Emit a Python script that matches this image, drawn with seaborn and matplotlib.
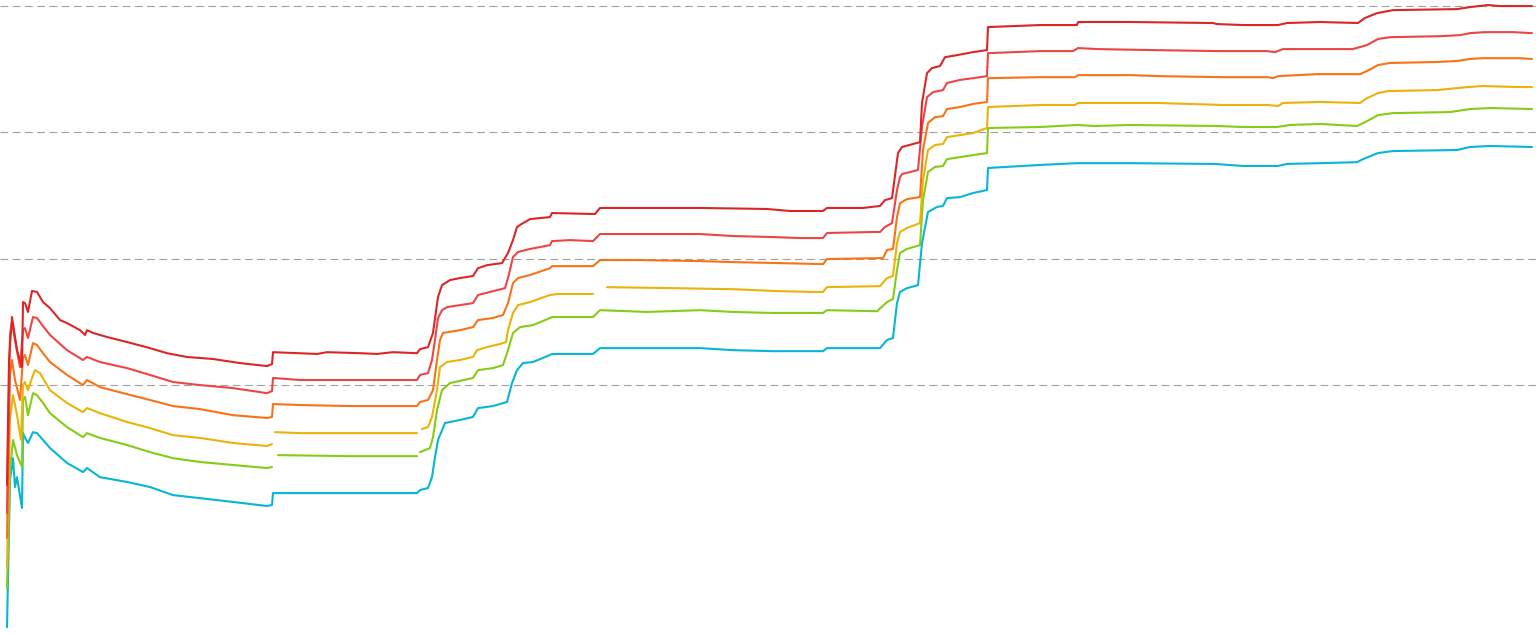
import numpy as np
import pandas as pd
import matplotlib
matplotlib.use("Agg")
import matplotlib.pyplot as plt
import seaborn as sns

NAN = np.nan

# 6 条净值曲线（day = 交易日序号, nav = 净值），NAN 表示断线
red_day = [0, 2, 5, 7, 10, 15, 16, 18, 21, 25, 30, 36, 43, 53, 60, 73, 78, 80, 86, 100,
           120, 143, 160, 180, 206, 233, 260, 265, 266, 310, 320, 353, 370, 386, 410, 413, 421, 426, 431, 435,
           443, 453, 466, 471, 480, 495, 501, 506, 510, 516, 523, 543, 545, 588, 593, 623, 693, 760, 783, 816,
           820, 856, 873, 878, 885, 891, 895, 910, 913, 915, 920, 925, 933, 938, 950, 966, 980, 981, 1033, 1070,
           1071, 1123, 1206, 1210, 1236, 1271, 1280, 1313, 1351, 1358, 1370, 1386, 1450, 1463, 1481, 1493, 1525]
red_nav = [0.605, 1.099, 1.269, 1.217, 1.138, 1.071, 1.328, 1.324, 1.289, 1.372,
           1.368, 1.328, 1.304, 1.257, 1.245, 1.217, 1.198, 1.217, 1.206, 1.190,
           1.170, 1.146, 1.126, 1.111, 1.103, 1.087, 1.075, 1.083, 1.130, 1.123,
           1.130, 1.126, 1.123, 1.130, 1.126, 1.142, 1.150, 1.206, 1.348, 1.395,
           1.415, 1.423, 1.431, 1.462, 1.474, 1.482, 1.522, 1.573, 1.625, 1.640,
           1.656, 1.664, 1.680, 1.676, 1.700, 1.700, 1.700, 1.696, 1.688, 1.688,
           1.700, 1.700, 1.708, 1.731, 1.739, 1.917, 1.941, 1.957, 1.960, 2.115,
           2.233, 2.253, 2.261, 2.296, 2.304, 2.316, 2.324, 2.415, 2.423, 2.423,
           2.435, 2.435, 2.431, 2.427, 2.423, 2.423, 2.431, 2.435, 2.431, 2.451,
           2.470, 2.482, 2.486, 2.494, 2.502, 2.498, 2.498]

lred_day = [0, 3, 5, 8, 13, 16, 18, 21, 26, 30, 36, 43, 60, 76, 80, 93, 120, 143, 166, 193,
            226, 260, 265, 266, 293, 343, 410, 413, 421, 425, 428, 431, 435, 440, 453, 466, 471, 483, 498, 501,
            506, 511, 523, 543, 545, 563, 586, 593, 630, 693, 726, 766, 793, 816, 820, 866, 873, 878, 885, 890,
            893, 895, 911, 915, 920, 926, 936, 940, 953, 966, 980, 981, 1033, 1066, 1071, 1090, 1146, 1213, 1260, 1268,
            1276, 1313, 1346, 1360, 1371, 1383, 1433, 1453, 1463, 1478, 1506, 1525]
lred_nav = [0.494, 1.198, 1.249, 1.178, 1.071, 1.217, 1.225, 1.186, 1.269, 1.265,
            1.233, 1.198, 1.138, 1.099, 1.111, 1.091, 1.067, 1.040, 1.012, 1.000,
            0.988, 0.968, 0.976, 1.028, 1.020, 1.020, 1.020, 1.040, 1.047, 1.099,
            1.178, 1.265, 1.296, 1.308, 1.316, 1.324, 1.356, 1.368, 1.383, 1.423,
            1.506, 1.526, 1.538, 1.553, 1.569, 1.573, 1.569, 1.597, 1.597, 1.597,
            1.589, 1.585, 1.581, 1.581, 1.601, 1.605, 1.605, 1.625, 1.640, 1.771,
            1.822, 1.834, 1.850, 2.020, 2.138, 2.158, 2.166, 2.194, 2.206, 2.213,
            2.221, 2.312, 2.320, 2.320, 2.332, 2.328, 2.324, 2.320, 2.320, 2.316,
            2.328, 2.328, 2.328, 2.344, 2.368, 2.375, 2.379, 2.383, 2.391, 2.395,
            2.395, 2.391]

orange_day = [0, 3, 5, 8, 13, 16, 18, 21, 26, 30, 36, 43, 60, 76, 80, 93, 120, 143, 166, 193,
              226, 260, 265, 266, 293, 343, 410, 413, 421, 426, 430, 433, 436, 453, 466, 471, 486, 496, 501, 506,
              511, 523, 543, 545, 586, 593, 633, 693, 726, 773, 816, 820, 876, 880, 886, 890, 893, 900, 913, 916,
              921, 928, 936, 940, 953, 966, 980, 981, 1033, 1068, 1071, 1123, 1153, 1216, 1261, 1266, 1271, 1310, 1353, 1360,
              1371, 1383, 1430, 1450, 1463, 1476, 1513, 1525]
orange_nav = [0.395, 1.040, 1.099, 1.020, 0.941, 1.107, 1.119, 1.079, 1.166, 1.158,
              1.126, 1.091, 1.040, 1.000, 1.020, 0.992, 0.964, 0.941, 0.917, 0.905,
              0.881, 0.870, 0.874, 0.925, 0.921, 0.917, 0.917, 0.933, 0.941, 0.980,
              1.099, 1.178, 1.206, 1.217, 1.229, 1.257, 1.265, 1.277, 1.324, 1.403,
              1.423, 1.435, 1.462, 1.470, 1.470, 1.494, 1.494, 1.490, 1.486, 1.482,
              1.478, 1.498, 1.502, 1.534, 1.538, 1.664, 1.719, 1.735, 1.743, 1.929,
              2.036, 2.059, 2.063, 2.091, 2.099, 2.111, 2.119, 2.213, 2.217, 2.217,
              2.225, 2.225, 2.221, 2.217, 2.217, 2.213, 2.221, 2.229, 2.229, 2.241,
              2.265, 2.273, 2.277, 2.281, 2.289, 2.292, 2.292, 2.289]

amber_day = [0, 3, 6, 10, 14, 16, 18, 21, 25, 28, 33, 43, 60, 76, 80, 93, 120, 143, 166, 193,
             226, 260, 265, 266, 268, 293, 343, 410, 412, 415, 421, 425, 430, 433, 440, 453, 466, 470, 480, 493,
             499, 501, 506, 511, 523, 543, 551, 586, 590, 600, 666, 726, 766, 806, 816, 820, 873, 880, 886, 890,
             893, 900, 913, 916, 921, 928, 936, 940, 953, 966, 980, 981, 1033, 1068, 1071, 1150, 1216, 1261, 1271, 1276,
             1313, 1353, 1360, 1371, 1381, 1430, 1461, 1476, 1510, 1525]
amber_nav = [0.281, 0.862, 0.960, 0.881, 0.783, 1.000, 1.012, 0.980, 1.028, 1.059,
             1.047, 0.980, 0.929, 0.893, 0.909, 0.889, 0.854, 0.830, 0.802, 0.791,
             0.771, 0.759, 0.767, NAN, 0.814, 0.810, 0.810, 0.810, NAN, 0.826,
             0.834, 0.874, 0.980, 1.071, 1.091, 1.099, 1.111, 1.138, 1.150, 1.162,
             1.170, 1.217, 1.285, 1.316, 1.328, 1.356, 1.360, 1.360, NAN, 1.387,
             1.383, 1.379, 1.372, 1.368, 1.368, 1.387, 1.391, 1.423, 1.431, 1.561,
             1.605, 1.621, 1.640, 1.810, 1.929, 1.949, 1.953, 1.980, 1.988, 1.996,
             2.016, 2.099, 2.107, 2.107, 2.115, 2.115, 2.107, 2.107, 2.103, 2.115,
             2.119, 2.115, 2.134, 2.154, 2.162, 2.166, 2.178, 2.182, 2.178, 2.178]

green_day = [0, 3, 6, 10, 15, 16, 18, 21, 26, 30, 36, 43, 60, 76, 80, 93, 120, 143, 166, 193,
             226, 260, 265, 268, 271, 343, 410, 412, 413, 423, 426, 430, 435, 443, 466, 471, 486, 496, 501, 506,
             513, 526, 543, 545, 586, 593, 640, 693, 726, 766, 816, 820, 870, 880, 886, 890, 893, 900, 913, 916,
             921, 928, 936, 940, 953, 966, 980, 981, 1033, 1070, 1088, 1123, 1210, 1236, 1270, 1283, 1313, 1350, 1360, 1371,
             1386, 1443, 1463, 1483, 1525]
green_nav = [0.198, 0.664, 0.783, 0.723, 0.676, 0.941, 0.953, 0.881, 0.968, 0.960,
             0.929, 0.889, 0.834, 0.794, 0.810, 0.791, 0.763, 0.735, 0.711, 0.696,
             0.684, 0.672, 0.676, NAN, 0.723, 0.719, 0.719, NAN, 0.735, 0.751,
             0.794, 0.901, 0.980, 1.008, 1.028, 1.059, 1.067, 1.079, 1.138, 1.206,
             1.229, 1.237, 1.265, 1.269, 1.269, 1.296, 1.289, 1.296, 1.289, 1.285,
             1.285, 1.296, 1.292, 1.328, 1.340, 1.455, 1.522, 1.538, 1.553, 1.731,
             1.842, 1.862, 1.866, 1.893, 1.901, 1.909, 1.917, 2.016, 2.020, 2.028,
             2.024, 2.028, 2.024, 2.020, 2.020, 2.028, 2.032, 2.024, 2.043, 2.067,
             2.075, 2.079, 2.091, 2.095, 2.091]

cyan_day = [0, 3, 6, 8, 10, 15, 16, 18, 21, 26, 30, 36, 43, 60, 76, 80, 93, 120, 143, 166,
            193, 226, 260, 265, 266, 343, 410, 413, 421, 425, 428, 431, 438, 453, 466, 471, 486, 500, 505, 510,
            516, 526, 543, 545, 586, 593, 693, 726, 766, 816, 820, 873, 880, 886, 890, 893, 900, 911, 915, 921,
            930, 936, 940, 953, 966, 980, 981, 1033, 1070, 1123, 1208, 1236, 1271, 1280, 1313, 1350, 1356, 1371, 1386, 1450,
            1463, 1483, 1525]
cyan_nav = [0.043, 0.625, 0.711, 0.597, 0.636, 0.514, 0.810, 0.791, 0.771, 0.814,
            0.810, 0.783, 0.751, 0.692, 0.656, 0.672, 0.636, 0.617, 0.597, 0.565,
            0.553, 0.538, 0.522, 0.526, 0.573, 0.573, 0.573, 0.585, 0.593, 0.636,
            0.715, 0.783, 0.850, 0.862, 0.874, 0.909, 0.917, 0.933, 1.008, 1.059,
            1.087, 1.091, 1.119, 1.123, 1.123, 1.146, 1.146, 1.138, 1.134, 1.134,
            1.146, 1.146, 1.178, 1.186, 1.324, 1.368, 1.383, 1.395, 1.561, 1.684,
            1.704, 1.708, 1.739, 1.743, 1.759, 1.771, 1.858, 1.870, 1.877, 1.877,
            1.874, 1.866, 1.866, 1.874, 1.877, 1.881, 1.893, 1.917, 1.925, 1.929,
            1.941, 1.945, 1.941]

series_names = ["cyan", "green", "amber", "orange", "lred", "red"]  # 绘制顺序，红色在最上层
series_colors = ["#06b6d4", "#84cc16", "#eab308", "#f97316", "#ef4444", "#dc2626"]
grid_levels = [1.0, 1.5, 2.0, 2.5]


def build_frame():
    """把各条曲线整理成长表，遇到 NAN 就另起一段"""
    all_data = {
        "cyan": (cyan_day, cyan_nav),
        "green": (green_day, green_nav),
        "amber": (amber_day, amber_nav),
        "orange": (orange_day, orange_nav),
        "lred": (lred_day, lred_nav),
        "red": (red_day, red_nav),
    }
    rows = []
    for name, (days, navs) in all_data.items():
        seg = 0
        for d, v in zip(days, navs):
            if np.isnan(v):
                seg += 1
                continue
            rows.append({"series": name, "segment": seg, "day": d, "nav": v})
    return pd.DataFrame(rows)


def main():
    df = build_frame()

    sns.set_style("white")
    fig = plt.figure(figsize=(15.4, 6.33), dpi=100)
    ax = fig.add_axes([0, 0, 1, 1])

    sns.lineplot(data=df, x="day", y="nav", hue="series", units="segment",
                 estimator=None, sort=False, hue_order=series_names,
                 palette=dict(zip(series_names, series_colors)),
                 linewidth=1.5, legend=False, ax=ax)

    # 虚线网格
    ax.set_yticks(grid_levels)
    ax.yaxis.grid(True, linestyle=(0, (7, 4)), color="#a0a0a0", linewidth=0.8)
    ax.xaxis.grid(False)
    ax.set_axisbelow(True)

    ax.set_xlim(-7, 1533)
    ax.set_ylim(0.02, 2.522)
    ax.tick_params(left=False, bottom=False, labelleft=False, labelbottom=False)
    ax.set_xlabel("")
    ax.set_ylabel("")
    for sp in ax.spines.values():
        sp.set_visible(False)

    fig.savefig("out.png", dpi=100)
    plt.close(fig)


if __name__ == "__main__":
    main()
